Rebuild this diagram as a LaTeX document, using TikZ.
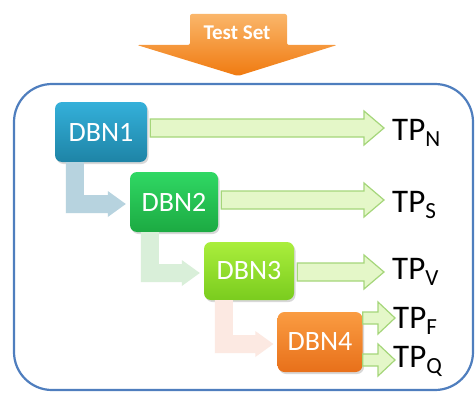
\documentclass[tikz,border=0pt]{standalone}
\usepackage{fontspec}
\setmainfont{Carlito}
\usetikzlibrary{positioning,shadows,calc}
\definecolor{framecol}{RGB}{79,126,190}
\definecolor{dbnAtop}{RGB}{52,176,218}
\definecolor{dbnAbot}{RGB}{30,132,166}
\definecolor{dbnBtop}{RGB}{48,216,100}
\definecolor{dbnBbot}{RGB}{28,170,66}
\definecolor{dbnCtop}{RGB}{170,238,60}
\definecolor{dbnCbot}{RGB}{122,204,30}
\definecolor{dbnDtop}{RGB}{250,156,66}
\definecolor{dbnDbot}{RGB}{232,112,26}
\definecolor{outfill}{RGB}{228,247,200}
\definecolor{outline}{RGB}{165,214,122}
\definecolor{bendA}{RGB}{183,211,223}
\definecolor{bendB}{RGB}{217,239,217}
\definecolor{bendC}{RGB}{252,233,226}
\definecolor{testtop}{RGB}{250,182,106}
\definecolor{testbot}{RGB}{240,122,16}

% straight fat arrow: style, from, to, half shaft, half head, head length
\newcommand{\fatarrow}[6]{%
  \path[#1] let \p1=(#2), \p2=(#3) in
    (\x1,\y1+#4) -- (\x2-#6,\y1+#4) -- (\x2-#6,\y1+#5) -- (\x2,\y1)
    -- (\x2-#6,\y1-#5) -- (\x2-#6,\y1-#4) -- (\x1,\y1-#4) -- cycle;}
% bent fat arrow from the bottom of one box into the side of the next
\newcommand{\bentarrow}[3]{%
  \path[#1] let \p1=($(#2.south west)+(20,0)$), \p2=($(#3.west)+(-4,2)$) in
    (\x1-9pt,\y1) -- (\x1-9pt,\y2-9pt) -- (\x2-18pt,\y2-9pt) -- (\x2-18pt,\y2-13pt)
    -- (\x2,\y2) -- (\x2-18pt,\y2+13pt) -- (\x2-18pt,\y2+9pt) -- (\x1+9pt,\y2+9pt)
    -- (\x1+9pt,\y1) -- cycle;}

\begin{document}
\begin{tikzpicture}[x=1pt,y=-1pt,
  dbnbox/.style={rectangle, rounded corners=7pt, minimum height=60pt, text=white,
    font=\fontsize{28}{28}\selectfont,
    drop shadow={shadow xshift=1.5pt, shadow yshift=-2pt, opacity=.3}},
  tplabel/.style={inner sep=0pt, anchor=base west, font=\fontsize{33}{33}\selectfont},
  outarrow/.style={fill=outfill, draw=outline, line width=1.2pt},
  testlabel/.style={text=white, font=\fontsize{21}{21}\selectfont\bfseries}]
\useasboundingbox (0,0) rectangle (476,396);

% frame
\draw[framecol, line width=2.2pt, rounded corners=38pt, fill=white] (14,84) rectangle (473,390);

% test set arrow
\shade[top color=testtop, bottom color=testbot, rounded corners=2pt]
  (190,14) -- (287,14) -- (287,45) -- (337,45) -- (238,76) -- (137,45) -- (190,45) -- cycle;
\node[testlabel] (testset) at (237,33) {Test Set};

% boxes
\node[dbnbox, minimum width=92pt, top color=dbnAtop, bottom color=dbnAbot] (dbn1) at (101,132) {DBN1};
\node[dbnbox, minimum width=88pt, top color=dbnBtop, bottom color=dbnBbot] (dbn2) at (174,202) {DBN2};
\node[dbnbox, minimum width=90pt, minimum height=58pt, top color=dbnCtop, bottom color=dbnCbot] (dbn3) at (249,271) {DBN3};
\node[dbnbox, minimum width=85pt, top color=dbnDtop, bottom color=dbnDbot] (dbn4) at (320,342) {DBN4};

% outputs
\node[tplabel] (tpn) at (392,140) {TP\textsubscript{N}};
\node[tplabel] (tps) at (392,212) {TP\textsubscript{S}};
\node[tplabel] (tpv) at (392,279) {TP\textsubscript{V}};
\node[tplabel] (tpf) at (393,328) {TP\textsubscript{F}};
\node[tplabel] (tpq) at (393,367) {TP\textsubscript{Q}};

\fatarrow{outarrow}{$(dbn1.east)+(3,-4)$}{$(tpn.west)+(-8,0)$}{9pt}{17pt}{20pt}
\fatarrow{outarrow}{$(dbn2.east)+(3,-2)$}{$(tps.west)+(-8,0)$}{9pt}{17pt}{20pt}
\fatarrow{outarrow}{$(dbn3.east)+(3,1)$}{$(tpv.west)+(-8,0)$}{9pt}{17pt}{20pt}
\fatarrow{outarrow}{$(dbn4.east)+(0,-24)$}{$(tpf.west)+(2,0)$}{6pt}{16pt}{17pt}
\fatarrow{outarrow}{$(dbn4.east)+(0,18)$}{$(tpq.west)+(2,0)$}{6pt}{16pt}{17pt}

% hand-over between stages
\bentarrow{fill=bendA}{dbn1}{dbn2}
\bentarrow{fill=bendB}{dbn2}{dbn3}
\bentarrow{fill=bendC}{dbn3}{dbn4}
\end{tikzpicture}
\end{document}
